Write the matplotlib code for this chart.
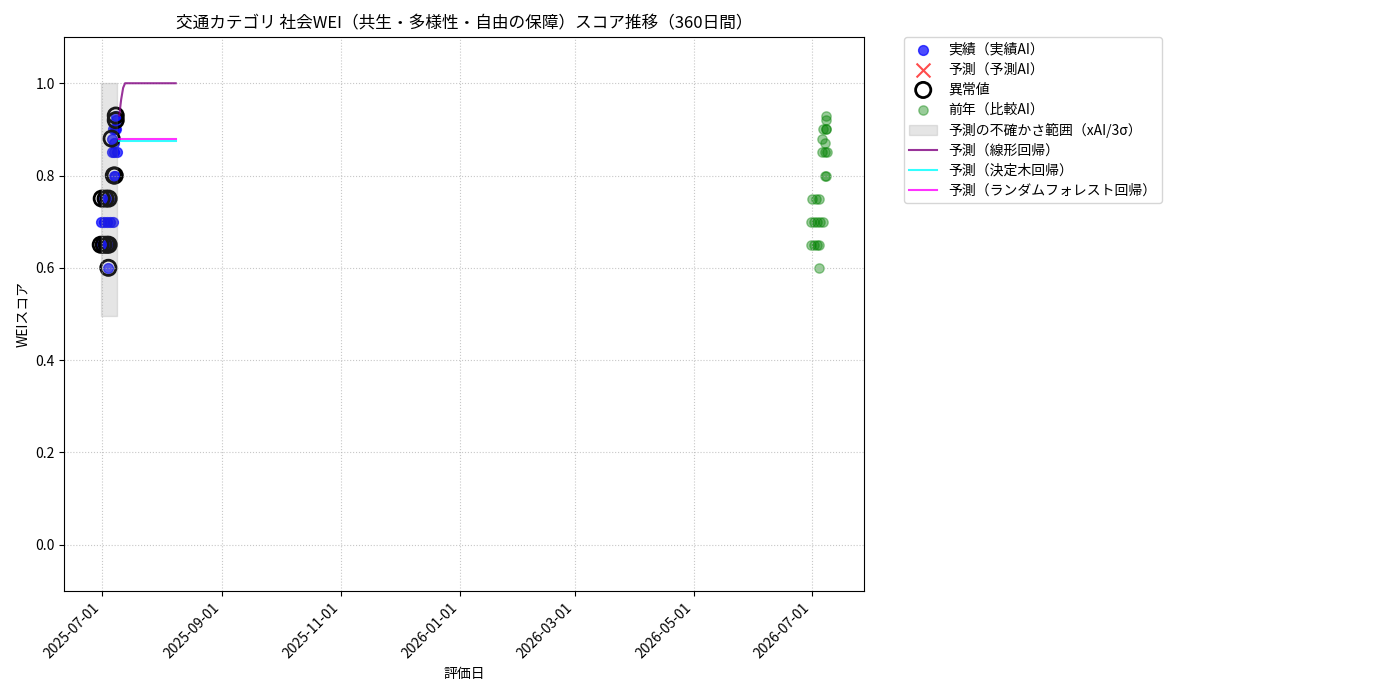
import pandas as pd
import matplotlib
matplotlib.use("Agg")
import matplotlib.pyplot as plt
import matplotlib.dates as mdates

plt.rcParams['font.family'] = ['Noto Sans CJK JP', 'DejaVu Sans']
plt.rcParams['axes.unicode_minus'] = False

# 実績データ
actual_dates = [
    '2025-06-30 12:00', '2025-06-30 12:00', '2025-07-01 00:00', '2025-07-02 00:00',
    '2025-07-02 00:00', '2025-07-03 00:00', '2025-07-03 14:00', '2025-07-03 14:00',
    '2025-07-04 10:00', '2025-07-04 14:00', '2025-07-04 14:00', '2025-07-05 02:00',
    '2025-07-06 02:00', '2025-07-06 02:00', '2025-07-06 14:00', '2025-07-06 14:00',
    '2025-07-07 05:00', '2025-07-07 05:00', '2025-07-07 05:00', '2025-07-07 17:00',
    '2025-07-07 17:00', '2025-07-08 05:00', '2025-07-08 05:00', '2025-07-08 05:00',
    '2025-07-08 17:00',
]
actual_scores = [
    0.70, 0.65, 0.75, 0.70,
    0.65, 0.75, 0.70, 0.65,
    0.60, 0.75, 0.65, 0.70,
    0.88, 0.85, 0.70, 0.90,
    0.87, 0.85, 0.80, 0.90,
    0.80, 0.93, 0.92, 0.90,
    0.85,
]
anomaly_flags = [
    0, 1, 1, 0,
    1, 1, 0, 1,
    1, 1, 1, 0,
    1, 0, 0, 0,
    0, 0, 1, 0,
    1, 1, 1, 0,
    0,
]

# 前年データ（比較AI）
prev_dates = [
    '2026-06-30 12:00', '2026-06-30 12:00', '2026-07-01 00:00', '2026-07-02 00:00',
    '2026-07-02 00:00', '2026-07-03 00:00', '2026-07-03 14:00', '2026-07-03 14:00',
    '2026-07-04 10:00', '2026-07-04 14:00', '2026-07-04 14:00', '2026-07-05 02:00',
    '2026-07-06 02:00', '2026-07-06 02:00', '2026-07-06 14:00', '2026-07-06 14:00',
    '2026-07-07 05:00', '2026-07-07 05:00', '2026-07-07 05:00', '2026-07-07 17:00',
    '2026-07-07 17:00', '2026-07-08 05:00', '2026-07-08 05:00', '2026-07-08 05:00',
    '2026-07-08 17:00',
]
prev_scores = [
    0.70, 0.65, 0.75, 0.70,
    0.65, 0.75, 0.70, 0.65,
    0.60, 0.75, 0.65, 0.70,
    0.88, 0.85, 0.70, 0.90,
    0.87, 0.85, 0.80, 0.90,
    0.80, 0.93, 0.92, 0.90,
    0.85,
]

# 予測の不確かさ範囲
band_dates = ['2025-06-30 18:00', '2025-07-09 00:00']
band_lower = [0.495, 0.495]
band_upper = [1.0, 1.0]

# 回帰予測
pred_dates = pd.date_range('2025-07-10', periods=30, freq='D')
pred_linear = [0.93, 0.965, 0.99] + [1.0] * 27
pred_tree = [0.875] * 30
pred_forest = [0.879] * 30

actual_dates = pd.to_datetime(actual_dates)
prev_dates = pd.to_datetime(prev_dates)
band_dates = pd.to_datetime(band_dates)

anom_dates = [d for d, f in zip(actual_dates, anomaly_flags) if f]
anom_scores = [s for s, f in zip(actual_scores, anomaly_flags) if f]

fig, ax = plt.subplots(figsize=(14, 7), dpi=100)

ax.scatter(actual_dates, actual_scores, color='blue', alpha=0.7, s=50, label='実績（実績AI）')
ax.scatter([], [], color='red', marker='x', alpha=0.7, s=100, label='予測（予測AI）')
ax.scatter(anom_dates, anom_scores, facecolors='none', edgecolors='black', s=120,
           linewidths=2, label='異常値')
ax.scatter(prev_dates, prev_scores, color='green', alpha=0.4, s=45, label='前年（比較AI）')
ax.fill_between(band_dates, band_lower, band_upper, color='gray', alpha=0.2,
                label='予測の不確かさ範囲（xAI/3σ）')
ax.plot(pred_dates, pred_linear, color='purple', alpha=0.8, label='予測（線形回帰）')
ax.plot(pred_dates, pred_tree, color='cyan', alpha=0.8, label='予測（決定木回帰）')
ax.plot(pred_dates, pred_forest, color='magenta', alpha=0.8, label='予測（ランダムフォレスト回帰）')

ax.set_ylim(-0.1, 1.1)
ax.set_title('交通カテゴリ 社会WEI（共生・多様性・自由の保障）スコア推移（360日間）', fontsize=12)
ax.set_xlabel('評価日')
ax.set_ylabel('WEIスコア')
ax.grid(True, linestyle=':', alpha=0.7)
ax.xaxis.set_major_formatter(mdates.DateFormatter('%Y-%m-%d'))
plt.setp(ax.get_xticklabels(), rotation=45, ha='right')
ax.legend(bbox_to_anchor=(1.05, 1), loc='upper left', borderaxespad=0, labelspacing=0.43)

plt.subplots_adjust(left=0.046, right=0.617, top=0.947, bottom=0.156)
plt.savefig('out.png')
